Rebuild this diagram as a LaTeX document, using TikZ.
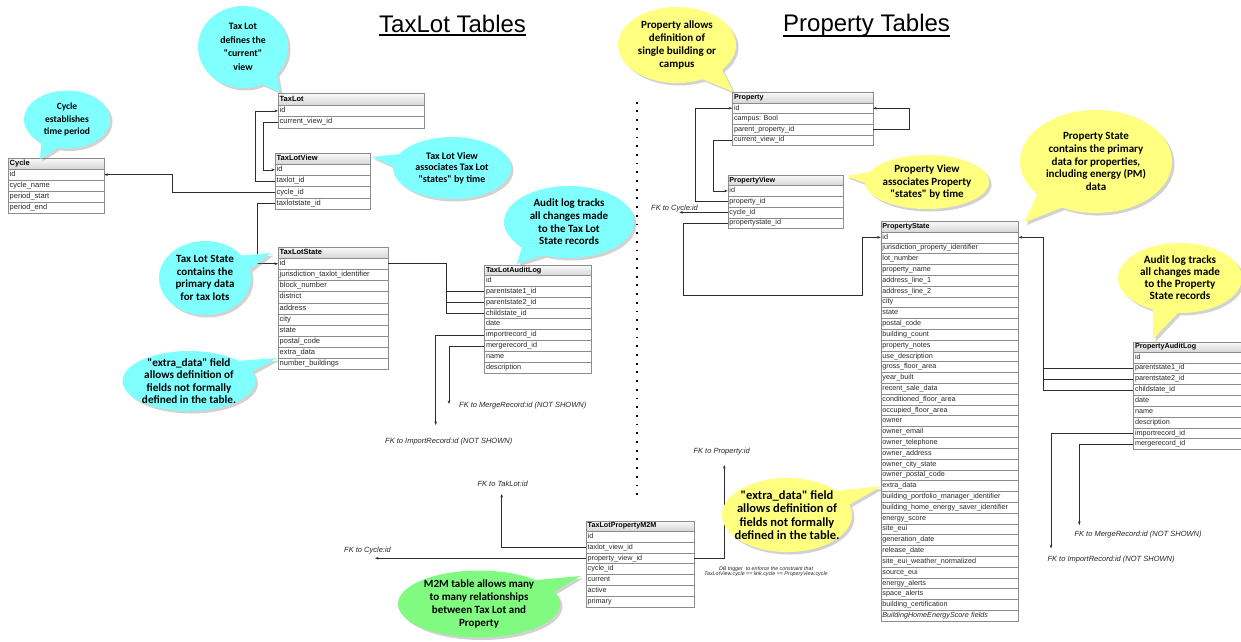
\documentclass[tikz,border=0pt]{standalone}
\usepackage{fontspec}
\setmainfont{Liberation Sans}
\newfontfamily\bubfont{Carlito}
\usetikzlibrary{shapes.callouts,shadows,arrows.meta,calc}
\definecolor{cyanb}{RGB}{128,255,255}
\definecolor{yelb}{RGB}{255,255,128}
\definecolor{grnb}{RGB}{128,250,128}
\definecolor{linec}{RGB}{45,45,45}
\definecolor{bord}{RGB}{140,140,140}
\definecolor{rowtext}{RGB}{40,40,40}
\frenchspacing

\newcommand\dbtable[9]{%
  \pgfmathsetmacro\dbtw{#4-3}%
  \node[hdr, font=\fontsize{#7}{#7}\selectfont\bfseries, minimum width=#4pt, minimum height=#5pt, text width=\dbtw pt, anchor=north west] (#1) at (#2,#3) {#8};
  \foreach \rowtxt [count=\i] in {#9}{
    \pgfmathsetmacro\dby{#3+#5+(\i-1)*#6}
    \node[rowbox, font=\fontsize{#7}{#7}\selectfont, minimum width=#4pt, minimum height=#6pt, text width=\dbtw pt, anchor=north west] (#1-\i) at (#2,\dby) {\rowtxt};
  }%
}

\begin{document}
\begin{tikzpicture}[x=1pt,y=-1pt,
  hdr/.style={draw=bord, top color=gray!4, bottom color=gray!32, inner xsep=1.5pt, inner ysep=0pt, text height=5.4pt, text depth=1.6pt, align=left, text=black},
  rowbox/.style={draw=bord, fill=white, inner xsep=1.5pt, inner ysep=0pt, text height=5.2pt, text depth=1.6pt, align=left, text=rowtext},
  fk/.style={draw=linec, line width=0.6pt, -{Stealth[length=3.5pt,width=2.6pt]}},
  ln/.style={draw=linec, line width=0.6pt},
  fklab/.style={inner sep=0pt, font=\fontsize{7.5}{8}\selectfont\itshape, text=rowtext},
  ttl/.style={inner sep=0pt, font=\fontsize{24}{28}\selectfont},
  bub/.style={ellipse callout, callout pointer arc=24, draw=none, align=center, inner sep=-22pt,
    text=black, drop shadow={opacity=0.35, shadow xshift=2.5pt, shadow yshift=-2.5pt}},
  bf/.style 2 args={font=\bubfont\bfseries\fontsize{#1}{#2}\selectfont},
  dotline/.style={draw=black, line width=1.8pt, dash pattern=on 1.8pt off 6.9pt}
]
\useasboundingbox (0,0) rectangle (1241,641);
\fill[white] (0,0) rectangle (1241,641);
\clip (0,0) rectangle (1241,641);

% titles
\node[ttl, anchor=base west] (t1) at (379,32) {TaxLot Tables};
\node[ttl, anchor=base west] (t2) at (783,31) {Property Tables};
\draw[line width=1.3pt] ([yshift=-3pt]t1.base west) -- ([yshift=-3pt]t1.base east);
\draw[line width=1.3pt] ([yshift=-5pt]t2.base west) -- ([yshift=-5pt]t2.base east);

% separator
\coordinate (dtop) at (637,101.7);
\coordinate (dbot) at (637,495);
\draw[dotline] (dtop) -- (dbot);

% tables
\dbtable{cy}{8}{157.7}{96}{11.3}{10.9}{7.5}{Cycle}{id,cycle\_name,period\_start,period\_end}
\dbtable{tl}{278}{93.3}{146}{11.7}{11.3}{7.5}{TaxLot}{id,current\_view\_id}
\dbtable{tlv}{275}{152.7}{95}{11.3}{11.2}{7.5}{TaxLotView}{id,taxlot\_id,cycle\_id,taxlotstate\_id}
\dbtable{tls}{278}{246.7}{110}{11.3}{11.13}{7.5}{TaxLotState}{id,jurisdiction\_taxlot\_identifier,block\_number,district,address,city,state,postal\_code,extra\_data,number\_buildings}
\dbtable{tla}{484.3}{265}{106.7}{10}{10.86}{7.3}{TaxLotAuditLog}{id,parentstate1\_id,parentstate2\_id,childstate\_id,date,importrecord\_id,mergerecord\_id,name,description}
\dbtable{pr}{732.3}{91.7}{140.4}{11}{10.65}{7.2}{Property}{id,campus: Bool,parent\_property\_id,current\_view\_id}
\dbtable{pv}{727.7}{175}{115.6}{10.3}{10.75}{7.2}{PropertyView}{id,property\_id,cycle\_id,propertystate\_id}
\dbtable{ps}{880.7}{221}{137.6}{10.7}{10.81}{7.2}{PropertyState}{id,jurisdiction\_property\_identifier,lot\_number,property\_name,address\_line\_1,address\_line\_2,city,state,postal\_code,building\_count,property\_notes,use\_description,gross\_floor\_area,year\_built,recent\_sale\_data,conditioned\_floor\_area,occupied\_floor\_area,owner,owner\_email,owner\_telephone,owner\_address,owner\_city\_state,owner\_postal\_code,extra\_data,building\_portfolio\_manager\_identifier,building\_home\_energy\_saver\_identifier,energy\_score,site\_eui,generation\_date,release\_date,site\_eui\_weather\_normalized,source\_eui,energy\_alerts,space\_alerts,building\_certification,\textit{BuildingHomeEnergyScore fields}}
\dbtable{pa}{1133.3}{341.7}{130}{10}{10.84}{7.2}{PropertyAuditLog}{id,parentstate1\_id,parentstate2\_id,childstate\_id,date,name,description,importrecord\_id,mergerecord\_id}
\dbtable{m2m}{586}{520.7}{108}{10.3}{10.81}{7.2}{TaxLotPropertyM2M}{id,taxlot\_view\_id,property\_view\_id,cycle\_id,current,active,primary}

% taxlot connectors
\draw[fk] (tlv-2.west) -- ++(-20,0) |- (tl-1.west);
\draw[fk] (tl-2.west) -- ++(-15,0) |- (tlv-1.west);
\draw[fk] (tlv-3.west) -- ++(-103,0) |- (cy-1.east);
\draw[fk] (tlv-4.west) -- ++(-18,0) |- (tls-1.west);
\draw[ln] (tls-1.east) -- ++(58,0) |- (tla-4.west);
\draw[ln] (tla-2.west) -- ++(-38.3,0);
\draw[ln] (tla-3.west) -- ++(-38.3,0);
\coordinate (impT) at (435.7,425);
\coordinate (mrgT) at (449,404);
\draw[fk] (tla-6.west) -| (impT);
\draw[fk] (tla-7.west) -| (mrgT);

% property connectors
\draw[fk] (pr-3.east) -- ++(36.3,0) |- (pr-1.east);
\draw[fk] (pv-2.west) -- ++(-32,0) |- (pr-1.west);
\draw[fk] (pr-4.west) -- ++(-19,0) |- (pv-1.west);
\coordinate (cycP) at ($(pv-3.west)+(-48.4,0)$);
\draw[fk] (pv-3.west) -- (cycP);
\draw[fk] (pv-4.west) -- ++(-44.4,0) -- ++(0,72) -| ($(ps-1.west)+(-18,0)$) -- (ps-1.west);
\draw[fk] (pa-4.west) -- ++(-90,0) |- (ps-1.east);
\draw[ln] (pa-2.west) -- ++(-90,0);
\draw[ln] (pa-3.west) -- ++(-90,0);
\coordinate (impP) at (1051,548.3);
\coordinate (mrgP) at (1079.3,525);
\draw[fk] (pa-8.west) -| (impP);
\draw[fk] (pa-9.west) -| (mrgP);

% m2m connectors
\coordinate (tlM) at (501.7,494);
\draw[fk] (m2m-2.west) -| (tlM);
\coordinate (cyM) at ($(m2m-3.west)+(-211,0)$);
\draw[fk] (m2m-3.west) -- (cyM);
\coordinate (prM) at (724.3,465);
\draw[fk] (m2m-3.east) -| (prM);

% FK labels
\node[fklab, anchor=base west] (lmrgT) at (459,407.7) {FK to MergeRecord:id (NOT SHOWN)};
\node[fklab, anchor=base west] (limpT) at (385,443.7) {FK to ImportRecord:id (NOT SHOWN)};
\node[fklab, anchor=base west] (limpP) at (1047.3,561) {FK to ImportRecord:id (NOT SHOWN)};
\node[fklab, anchor=base west] (lmrgP) at (1074.3,536.7) {FK to MergeRecord:id (NOT SHOWN)};
\node[fklab, anchor=base west] (ltlM) at (477.3,486) {FK to TakLot:id};
\node[fklab, anchor=base west] (lcyM) at (344,552.7) {FK to Cycle:id};
\node[fklab, anchor=base west] (lcyP) at (651,210) {FK to Cycle:id};
\node[fklab, anchor=base west] (lprM) at (693.3,453.7) {FK to Property:id};
\node[inner sep=0pt, font=\fontsize{5.3}{5.6}\selectfont\itshape, align=center, text=rowtext] (dbt) at (766,571.5) {DB trigger\ \ to enforce the constraint that\\TaxLotView.cycle == link.cycle == ProperyView.cycle};

% bubbles
\node[bub, fill=cyanb, bf={9.8}{13.5}, minimum width=90pt, minimum height=82pt, callout absolute pointer={(280,92)}] (b1) at (243,47) {Tax Lot\\defines the\\"current"\\view};
\node[bub, fill=cyanb, bf={9.5}{12.7}, minimum width=86pt, minimum height=58pt, callout absolute pointer={(40,159)}] (b2) at (67,119.5) {Cycle\\establishes\\time period};
\node[bub, fill=cyanb, bf={10}{11.5}, minimum width=118pt, minimum height=62pt, callout absolute pointer={(372,157)}] (b3) at (452,168) {Tax Lot View\\associates Tax Lot\\"states" by time};
\node[bub, fill=cyanb, bf={11}{12.7}, minimum width=130pt, minimum height=72pt, callout absolute pointer={(517,264)}] (b4) at (569,222) {Audit log tracks\\all changes made\\to the Tax Lot\\State records};
\node[bub, fill=cyanb, bf={11}{12.7}, minimum width=92pt, minimum height=74pt, callout absolute pointer={(271,253)}] (b5) at (205,278) {Tax Lot State\\contains the\\primary data\\for tax lots};
\node[bub, fill=cyanb, bf={11.2}{12.6}, minimum width=133pt, minimum height=60pt, callout absolute pointer={(277,358)}] (b6) at (189,381) {"extra\_data" field\\allows definition of\\fields not formally\\defined in the table.};
\node[bub, fill=yelb, bf={11}{12.8}, minimum width=118pt, minimum height=76pt, callout absolute pointer={(733,91.7)}] (b7) at (677,45) {Property allows\\definition of\\single building or\\campus};
\node[bub, fill=yelb, bf={11}{12.7}, minimum width=124pt, minimum height=54pt, callout absolute pointer={(846,176)}] (b8) at (927,182) {Property View\\associates Property\\"states" by time};
\node[bub, fill=yelb, bf={11}{12.9}, minimum width=152pt, minimum height=103pt, callout absolute pointer={(1024,222.7)}] (b9) at (1096,161.5) {Property State\\contains the primary\\data for properties,\\including energy (PM)\\data};
\node[bub, fill=yelb, bf={11.2}{12}, minimum width=124pt, minimum height=70pt, callout absolute pointer={(1153,339.3)}] (b10) at (1180,278) {Audit log tracks\\all changes made\\to the Property\\State records};
\node[bub, fill=yelb, bf={12.5}{13.3}, minimum width=130pt, minimum height=74pt, callout absolute pointer={(881.7,486)}] (b11) at (787,515) {"extra\_data" field\\allows definition of\\fields not formally\\defined in the table.};
\node[bub, fill=grnb, bf={11}{13.1}, minimum width=162pt, minimum height=67pt, callout absolute pointer={(580.7,576)}] (b12) at (479,604) {M2M table allows many\\to many relationships\\between Tax Lot and\\Property};
\end{tikzpicture}
\end{document}
